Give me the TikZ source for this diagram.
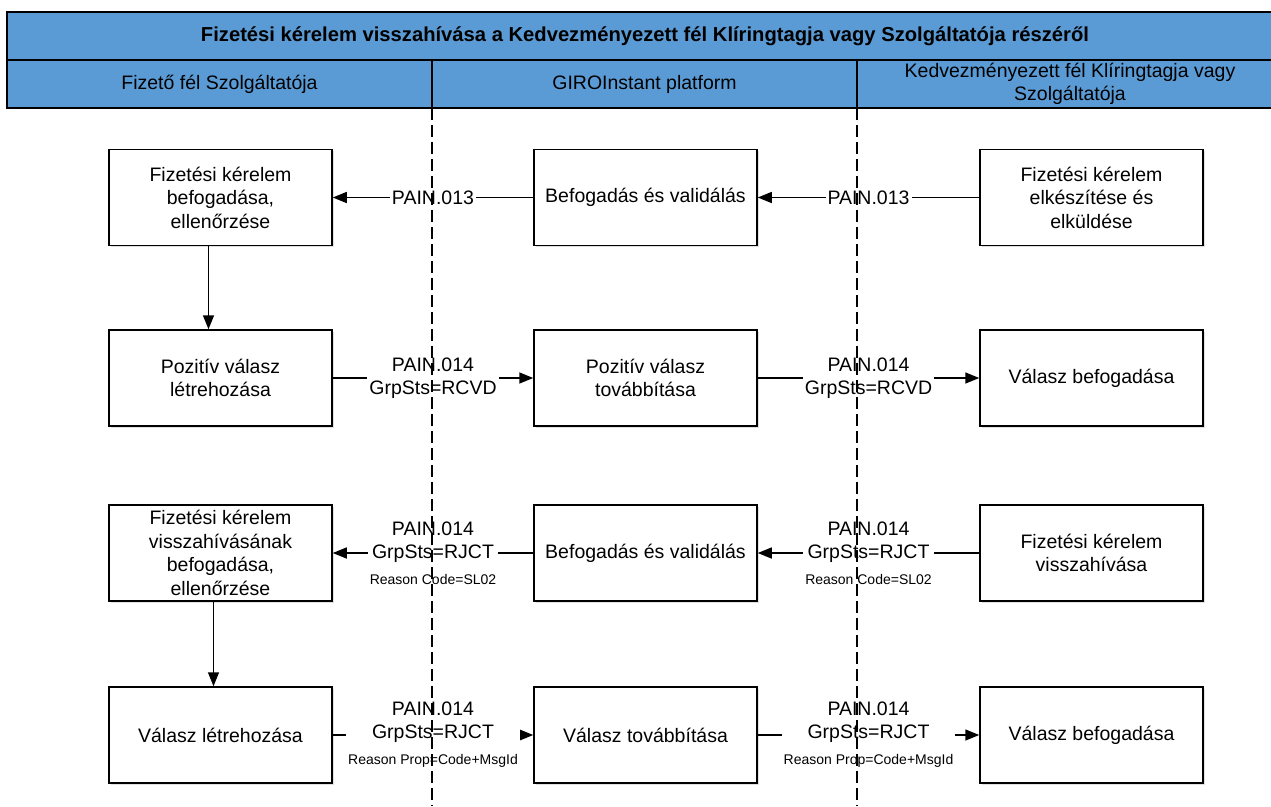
\documentclass[tikz,border=0pt]{standalone}
\usepackage{fontspec}
\setmainfont{Liberation Sans}
\usetikzlibrary{positioning,arrows.meta,shadows}
\definecolor{fejlec}{RGB}{91,155,213}
\tikzset{
	lepes/.style={draw, line width=1.5pt, fill=white, minimum width=223pt, minimum height=96pt,
		align=center, font=\fontsize{19.5}{23.5}\selectfont,
		drop shadow={shadow xshift=1.5pt, shadow yshift=-1.5pt, opacity=0.12, fill=black}},
	uzenet/.style={line width=1.5pt, -{Triangle[length=14pt,width=11pt]}},
	cimke/.style={fill=white, inner sep=2pt, align=center, font=\fontsize{19.5}{23}\selectfont},
	eletvonal/.style={line width=1.3pt, dash pattern=on 12pt off 5pt},
	fejszoveg/.style={align=center, font=\fontsize{19.5}{23}\selectfont}
}
\newcommand{\okkod}[1]{{\fontsize{14}{17}\selectfont #1}}

\begin{document}
\begin{tikzpicture}[x=1pt, y=-1pt]
					\useasboundingbox (0,0) rectangle (1271,806);

					% fejlec
					\draw[line width=1.8pt, fill=fejlec] (7,12) rectangle (1290,108);
					\draw[line width=1.8pt] (7,60) -- (1290,60);
					\draw[line width=1.5pt] (432,60) -- (432,108);
					\draw[line width=1.5pt] (857,60) -- (857,108);

					\node[fejszoveg, font=\bfseries\fontsize{20.2}{24}\selectfont] (cim) at (645,36)
						{Fizetési kérelem visszahívása a Kedvezményezett fél Klíringtagja vagy Szolgáltatója részéről};
					\node[fejszoveg] (fizeto) at (219.5,84) {Fizető fél Szolgáltatója};
					\node[fejszoveg] (giro) at (644.5,84) {GIROInstant platform};
					\node[fejszoveg] (kedv) at (1070,84) {Kedvezményezett fél Klíringtagja vagy\\Szolgáltatója};

					% 1. sor
					\node[lepes] (fogad) at (220.5,197.5) {Fizetési kérelem\\befogadása,\\ellenőrzése};
					\node[lepes] (valid) at (645.5,197.5) {Befogadás és validálás};
					\node[lepes] (kuld) at (1091.5,197.5) {Fizetési kérelem\\elkészítése és\\elküldése};

					% 2. sor
					\node[lepes] (pozLetre) at (220.5,378) {Pozitív válasz\\létrehozása};
					\node[lepes] (pozTovabb) at (645.5,378) {Pozitív válasz\\továbbítása};
					\node[lepes] (pozBefog) at (1091.5,378) {Válasz befogadása};

					% 3. sor
					\node[lepes] (visszaFogad) at (220.5,553) {Fizetési kérelem\\visszahívásának\\befogadása,\\ellenőrzése};
					\node[lepes] (visszaValid) at (645.5,553) {Befogadás és validálás};
					\node[lepes] (visszahiv) at (1091.5,553) {Fizetési kérelem\\visszahívása};

					% 4. sor
					\node[lepes] (valLetre) at (220.5,735) {Válasz létrehozása};
					\node[lepes] (valTovabb) at (645.5,735) {Válasz továbbítása};
					\node[lepes] (valBefog) at (1091.5,735) {Válasz befogadása};

					% uzenetek
					\draw[uzenet] (kuld) -- (valid) node[cimke, midway] (m1b) {PAIN.013};
					\draw[uzenet] (valid) -- (fogad) node[cimke, midway] (m1a) {PAIN.013};
					\draw[uzenet] ([xshift=-12pt]fogad.south) -- ([xshift=-12pt]pozLetre.north);

					\draw[uzenet] (pozLetre) -- (pozTovabb) node[cimke, midway] (m2a) {PAIN.014\\GrpSts=RCVD};
					\draw[uzenet] (pozTovabb) -- (pozBefog) node[cimke, midway] (m2b) {PAIN.014\\GrpSts=RCVD};

					\draw[uzenet] (visszahiv) -- (visszaValid) node[cimke, midway] (m3b) {PAIN.014\\GrpSts=RJCT\\[3pt]\okkod{Reason Code=SL02}};
					\draw[uzenet] (visszaValid) -- (visszaFogad) node[cimke, midway] (m3a) {PAIN.014\\GrpSts=RJCT\\[3pt]\okkod{Reason Code=SL02}};
					\draw[uzenet] ([xshift=-7pt]visszaFogad.south) -- ([xshift=-7pt]valLetre.north);

					\draw[uzenet] (valLetre) -- (valTovabb) node[cimke, midway] (m4a) {PAIN.014\\GrpSts=RJCT\\[3pt]\okkod{Reason Prop=Code+MsgId}};
					\draw[uzenet] (valTovabb) -- (valBefog) node[cimke, midway] (m4b) {PAIN.014\\GrpSts=RJCT\\[3pt]\okkod{Reason Prop=Code+MsgId}};

					% eletvonalak
					\draw[eletvonal] (432,108) -- (432,806);
					\draw[eletvonal] (857,108) -- (857,806);

				\end{tikzpicture}
\end{document}
